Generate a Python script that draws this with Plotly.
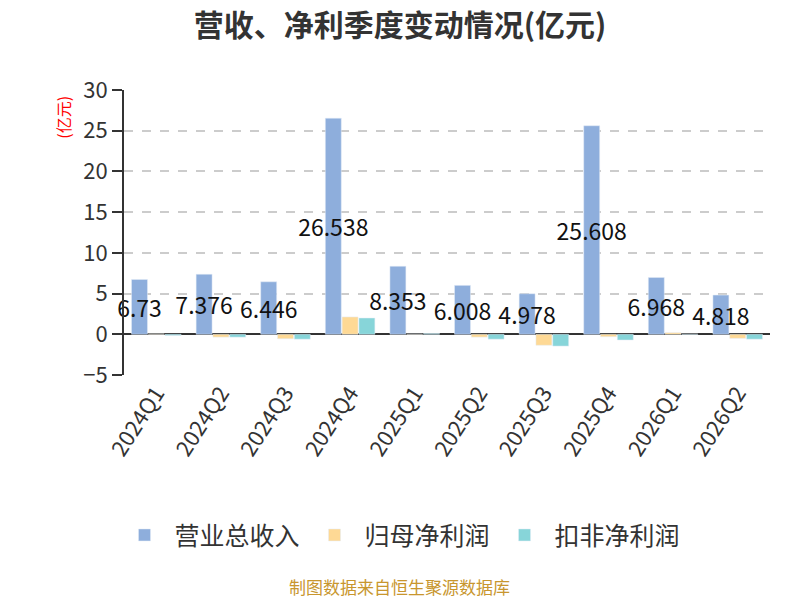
import plotly.graph_objects as go

quarters = ["2024Q1", "2024Q2", "2024Q3", "2024Q4", "2025Q1", "2025Q2", "2025Q3", "2025Q4", "2026Q1", "2026Q2"]
revenue = [6.73, 7.376, 6.446, 26.538, 8.353, 6.008, 4.978, 25.608, 6.968, 4.818]
net_profit = [0.05, -0.35, -0.55, 2.13, 0.03, -0.35, -1.35, -0.3, 0.2, -0.5]
deducted_profit = [-0.15, -0.35, -0.6, 2.0, 0.1, -0.6, -1.45, -0.7, 0.03, -0.6]

FONT = "Noto Sans CJK SC"
c_rev = "#8eaedc"
c_np = "#fed995"
c_dp = "#87d5d9"

fig = go.Figure()
fig.add_trace(go.Bar(
    name="营业总收入", x=quarters, y=revenue, marker_color=c_rev,
    text=[f"{v:g}" for v in revenue], textposition="inside", insidetextanchor="middle",
    textangle=0, constraintext="none", cliponaxis=False,
    textfont=dict(size=23, color="#111111", family=FONT),
))
fig.add_trace(go.Bar(name="归母净利润", x=quarters, y=net_profit, marker_color=c_np))
fig.add_trace(go.Bar(name="扣非净利润", x=quarters, y=deducted_profit, marker_color=c_dp))

fig.update_layout(
    width=800, height=600,
    paper_bgcolor="white", plot_bgcolor="white",
    font=dict(family=FONT, color="#333333"),
    barmode="group", bargap=0.22, bargroupgap=0.05,
    margin=dict(l=124, r=30, t=90, b=225, autoexpand=False),
    title=dict(text="<b>营收、净利季度变动情况(亿元)</b>", x=0.5, xanchor="center",
               y=0.958, yanchor="middle", font=dict(size=30, color="#333333", family=FONT)),
    legend=dict(orientation="h", xref="container", yref="container", x=0.5, xanchor="center",
                y=0.108, yanchor="middle", font=dict(size=25, color="#333333"),
                itemwidth=50, tracegroupgap=0),
    uniformtext=dict(minsize=23, mode="show"),
    annotations=[
        dict(text="制图数据来自恒生聚源数据库", xref="paper", yref="paper", x=0.427, y=-0.743,
             xanchor="center", yanchor="middle",
             showarrow=False, font=dict(size=17, color="#c8962e", family=FONT)),
        dict(text="(亿元)", xref="paper", yref="paper", x=-0.095, y=0.905, textangle=-90,
             xanchor="center", yanchor="middle",
             showarrow=False, font=dict(size=16, color="red", family=FONT)),
    ],
)
fig.update_yaxes(range=[-5, 30], dtick=5, showgrid=True, gridcolor="#cccccc", griddash="dash",
                 gridwidth=1.5, showline=True, linecolor="#333333", linewidth=2, ticks="outside",
                 ticklen=10, tickcolor="#333333", tickwidth=2, automargin=False,
                 tickfont=dict(size=22, color="#333333"), zeroline=True, zerolinecolor="#333333",
                 zerolinewidth=2)
fig.update_xaxes(showline=False, ticks="", tickangle=-57, automargin=False,
                 tickfont=dict(size=22, color="#333333"))

fig.write_html("out.html", config={"displayModeBar": False},
               post_script="document.body.style.margin='0';")
